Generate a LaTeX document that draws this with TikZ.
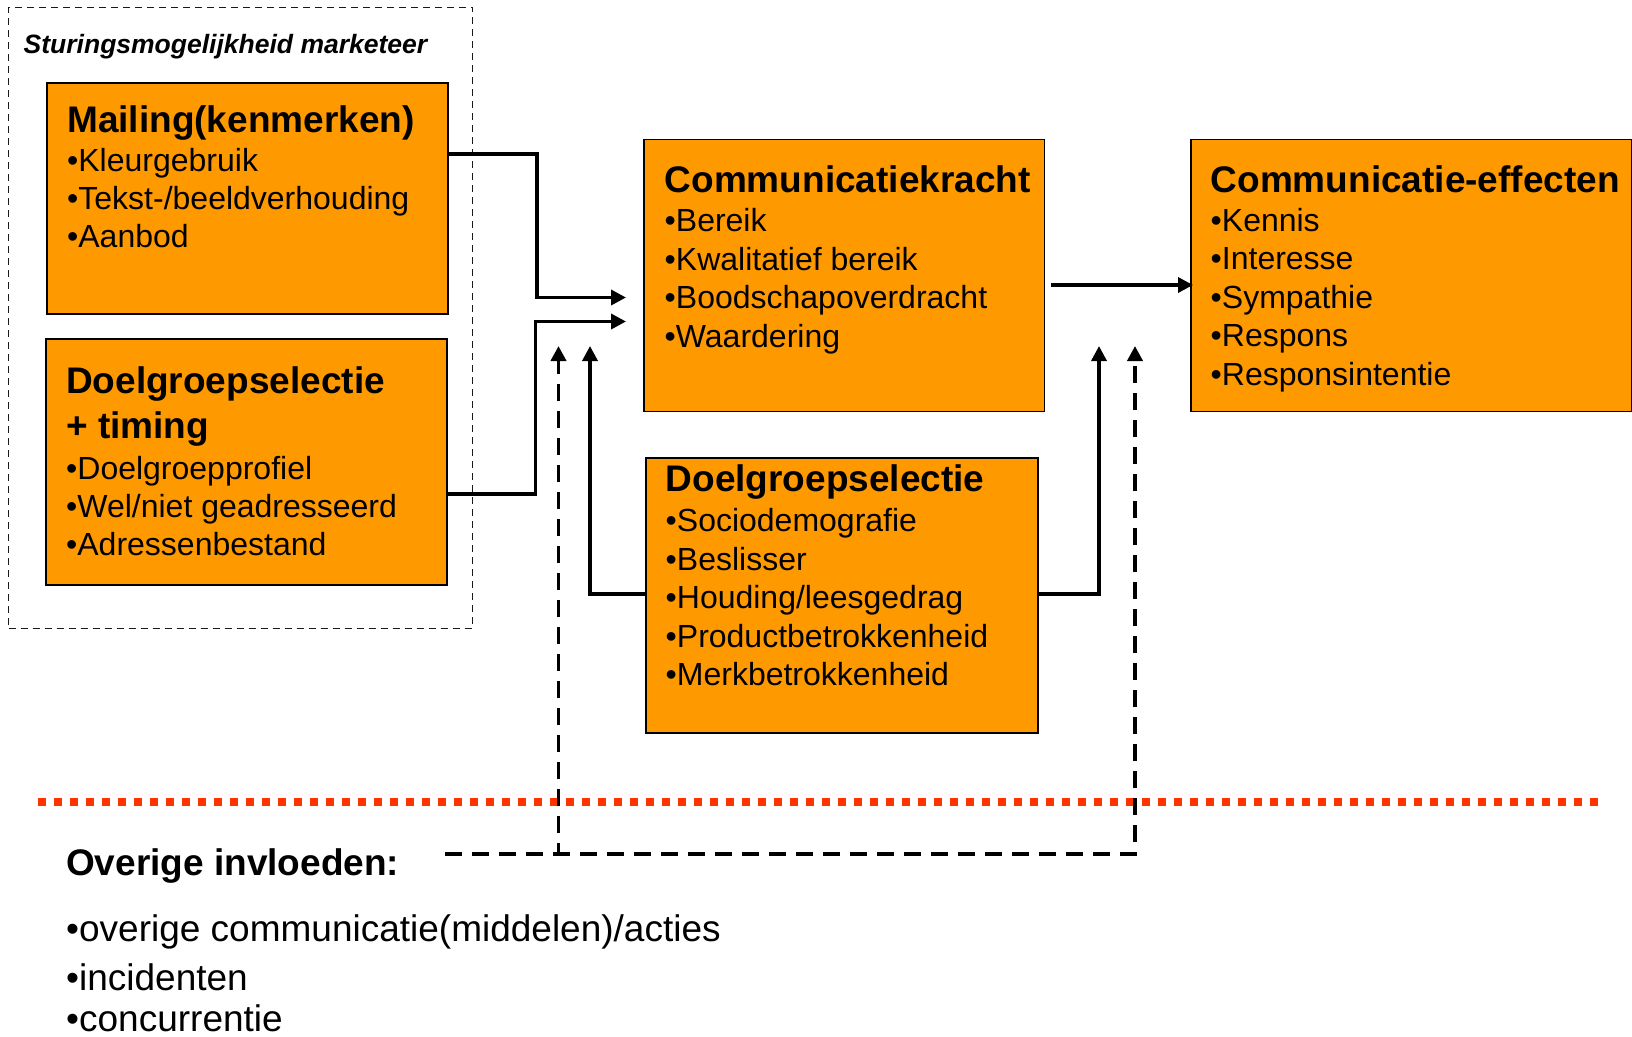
\documentclass[tikz,border=0pt]{standalone}
\usepackage{fontspec}
\setmainfont{Liberation Sans}
\usetikzlibrary{arrows.meta,calc}
\definecolor{boxorange}{HTML}{FF9900}
\definecolor{dotred}{HTML}{FF3300}
\begin{document}
\begin{tikzpicture}[x=1pt,y=-1pt,
  box/.style={draw=black, line width=1.8pt, fill=boxorange, inner sep=0pt, anchor=north west},
  hd/.style={anchor=base west, inner sep=0pt, font=\fontsize{37}{44}\selectfont\bfseries},
  it/.style={anchor=base west, inner sep=0pt, font=\fontsize{32}{38}\selectfont},
  big/.style={anchor=base west, inner sep=0pt, font=\fontsize{37}{44}\selectfont},
  conn/.style={line width=3.5pt, -{Triangle[length=15pt,width=15pt]}},
  dconn/.style={line width=3.8pt, dash pattern=on 17pt off 10pt, -{Triangle[length=15pt,width=15pt]}},
  ctrlbox/.style={draw=black!90, line width=1.4pt, dash pattern=on 7pt off 5pt, inner sep=0pt, anchor=north west},
  reddots/.style={dotred, line width=8pt, dash pattern=on 8pt off 8pt}]
\useasboundingbox (0,0) rectangle (1632,1036);

% control area
\node[ctrlbox, minimum width=464pt, minimum height=621pt] (ctrl) at (8,6.5) {};
\node[anchor=base west, inner sep=0pt, font=\fontsize{26.5}{30}\selectfont\bfseries\itshape] (ttl) at (23.5,53) {Sturingsmogelijkheid marketeer};

% boxes
\node[box, minimum width=401pt, minimum height=231pt] (mail) at (46,82) {};
\node[box, minimum width=401pt, minimum height=246pt] (dtim) at (44.7,338) {};
\node[box, minimum width=400.5pt, minimum height=272pt] (kracht) at (643,138.5) {};
\node[box, minimum width=441pt, minimum height=272pt] (effect) at (1190,138.5) {};
\node[box, minimum width=392pt, minimum height=275.5pt] (dsel) at (645,456.7) {};

% mailing text
\node[hd] (mailh) at (67,132) {Mailing(kenmerken)};
\node[it] (mail1) at (67,171) {•Kleurgebruik};
\node[it] (mail2) at (67,209) {•Tekst-/beeldverhouding};
\node[it] (mail3) at (67,247) {•Aanbod};

% doelgroepselectie + timing text
\node[hd] (dtimh1) at (66,393.5) {Doelgroepselectie};
\node[hd] (dtimh2) at (66,438.5) {+ timing};
\node[it] (dtim1) at (66,479.5) {•Doelgroepprofiel};
\node[it] (dtim2) at (66,517.5) {•Wel/niet geadresseerd};
\node[it] (dtim3) at (66,555) {•Adressenbestand};

% communicatiekracht text
\node[hd] (krachth) at (664.5,192.5) {Communicatiekracht};
\node[it] (kracht1) at (664.5,231.5) {•Bereik};
\node[it] (kracht2) at (664.5,270) {•Kwalitatief bereik};
\node[it] (kracht3) at (664.5,308.5) {•Boodschapoverdracht};
\node[it] (kracht4) at (664.5,347) {•Waardering};

% communicatie-effecten text
\node[hd] (effecth) at (1210.5,192) {Communicatie-effecten};
\node[it] (effect1) at (1210.5,231) {•Kennis};
\node[it] (effect2) at (1210.5,269.5) {•Interesse};
\node[it] (effect3) at (1210.5,308) {•Sympathie};
\node[it] (effect4) at (1210.5,346.5) {•Respons};
\node[it] (effect5) at (1210.5,385) {•Responsintentie};

% doelgroepselectie text
\node[hd] (dselh) at (665.5,491.5) {Doelgroepselectie};
\node[it] (dsel1) at (665.5,531.5) {•Sociodemografie};
\node[it] (dsel2) at (665.5,570) {•Beslisser};
\node[it] (dsel3) at (665.5,608.5) {•Houding/leesgedrag};
\node[it] (dsel4) at (665.5,647) {•Productbetrokkenheid};
\node[it] (dsel5) at (665.5,685.5) {•Merkbetrokkenheid};

% red dotted separator
\coordinate (redL) at (38,802);
\coordinate (redR) at (1598,802);
\draw[reddots] (redL) -- (redR);

% other influences
\node[hd] (ovh) at (66,875) {Overige invloeden:};
\node[big] (ov1) at (66,941.5) {•overige communicatie(middelen)/acties};
\node[big] (ov2) at (66,990) {•incidenten};
\node[big] (ov3) at (66,1031) {•concurrentie};

% free arrow ends
\coordinate (in1) at (626,297.5);
\coordinate (in2) at (626,321.5);
\coordinate (up1) at (590,346);
\coordinate (up2) at (1099,346);
\coordinate (up3) at (558.5,346);
\coordinate (up4) at (1135,346);
\coordinate (ovs) at (445,854);

% solid connectors
\draw[conn] ($(mail.north east)+(0,72)$) -- (537,154) |- (in1);
\draw[conn] ($(dtim.north east)+(0,156)$) -- (535.5,494) |- (in2);
\draw[conn] ($(dsel.north west)+(0,137.3)$) -| (up1);
\draw[conn] ($(dsel.north east)+(0,137.3)$) -| (up2);
\draw[conn] ($(kracht.north east)+(6,146.5)$) -- ($(effect.north west)+(3,146.5)$);

% dashed connectors from other influences
\draw[dconn] (ovs) -| (up3);
\draw[dconn] (ovs) -| (up4);
\end{tikzpicture}
\end{document}
